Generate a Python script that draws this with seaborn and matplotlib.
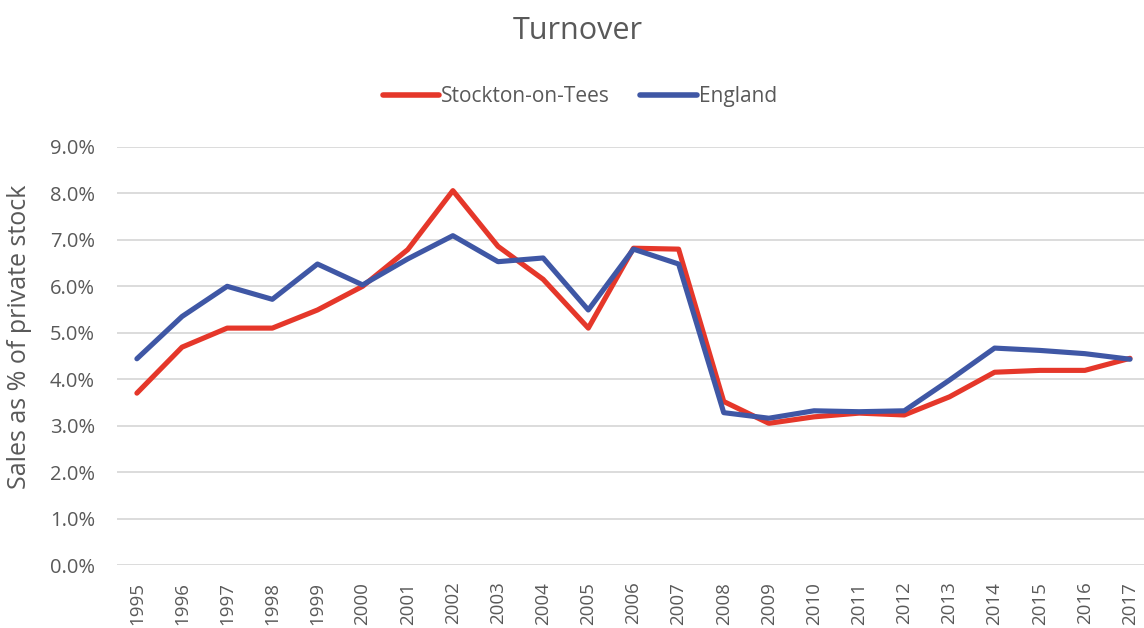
import pandas as pd
import matplotlib.pyplot as plt
import seaborn as sns

years = [str(y) for y in range(1995, 2018)]
stockton = [3.70, 4.69, 5.10, 5.10, 5.49, 6.00, 6.79, 8.06, 6.86, 6.15, 5.10, 6.82,
            6.80, 3.52, 3.05, 3.19, 3.27, 3.23, 3.62, 4.15, 4.19, 4.19, 4.45]
england = [4.44, 5.35, 6.00, 5.72, 6.48, 6.03, 6.59, 7.09, 6.53, 6.61, 5.49, 6.80,
           6.48, 3.28, 3.16, 3.32, 3.30, 3.32, 3.98, 4.67, 4.62, 4.55, 4.43]
series_names = ["Stockton-on-Tees", "England"]
colors = {"Stockton-on-Tees": "#E5372A", "England": "#3F57A5"}

sns.set_theme(style="white")
plt.rcParams['font.family'] = ['Open Sans', 'DejaVu Sans']

df = pd.DataFrame({
    "year": years * 2,
    "value": stockton + england,
    "area": [series_names[0]] * len(years) + [series_names[1]] * len(years),
})
df["x"] = df["year"].map({y: i for i, y in enumerate(years)})

fig = plt.figure(figsize=(11.44, 6.28), dpi=100)
ax = fig.add_axes([0.1023, 0.1003, 0.8977, 0.6657])

sns.lineplot(data=df, x="x", y="value", hue="area", palette=colors,
             linewidth=3.7, ax=ax, sort=False, legend=False)

grey = "#595959"
ax.set_xlim(-0.44, 22.31)
ax.set_ylim(0, 9)
ax.set_yticks(range(0, 10))
ax.set_yticklabels([f"{v:.1f}%" for v in range(0, 10)], color=grey, fontsize=14.5)
ax.set_xticks(range(len(years)))
ax.set_xticklabels(years, rotation=90, color=grey, fontsize=13.5)
ax.tick_params(axis="y", length=0, pad=16)
ax.tick_params(axis="x", length=0, pad=12)
ax.yaxis.grid(True, color="#D9D9D9", linewidth=1.3)
ax.set_axisbelow(True)
for s in ax.spines.values():
    s.set_visible(False)
ax.set_xlabel("")
ax.set_ylabel("Sales as % of private stock", color=grey, fontsize=18)
ax.yaxis.set_label_coords(-0.083, 0.545)

handles = [plt.Line2D([], [], color=colors[n], linewidth=4, solid_capstyle="round") for n in series_names]
fig.legend(handles, series_names, loc="center", bbox_to_anchor=(0.507, 0.846), ncol=2,
           frameon=False, fontsize=15, labelcolor=grey, handlelength=2.7,
           handletextpad=0.1, columnspacing=1.45)
fig.suptitle("Turnover", x=0.505, y=0.975, fontsize=22, color=grey)

fig.savefig("out.png", dpi=100)
